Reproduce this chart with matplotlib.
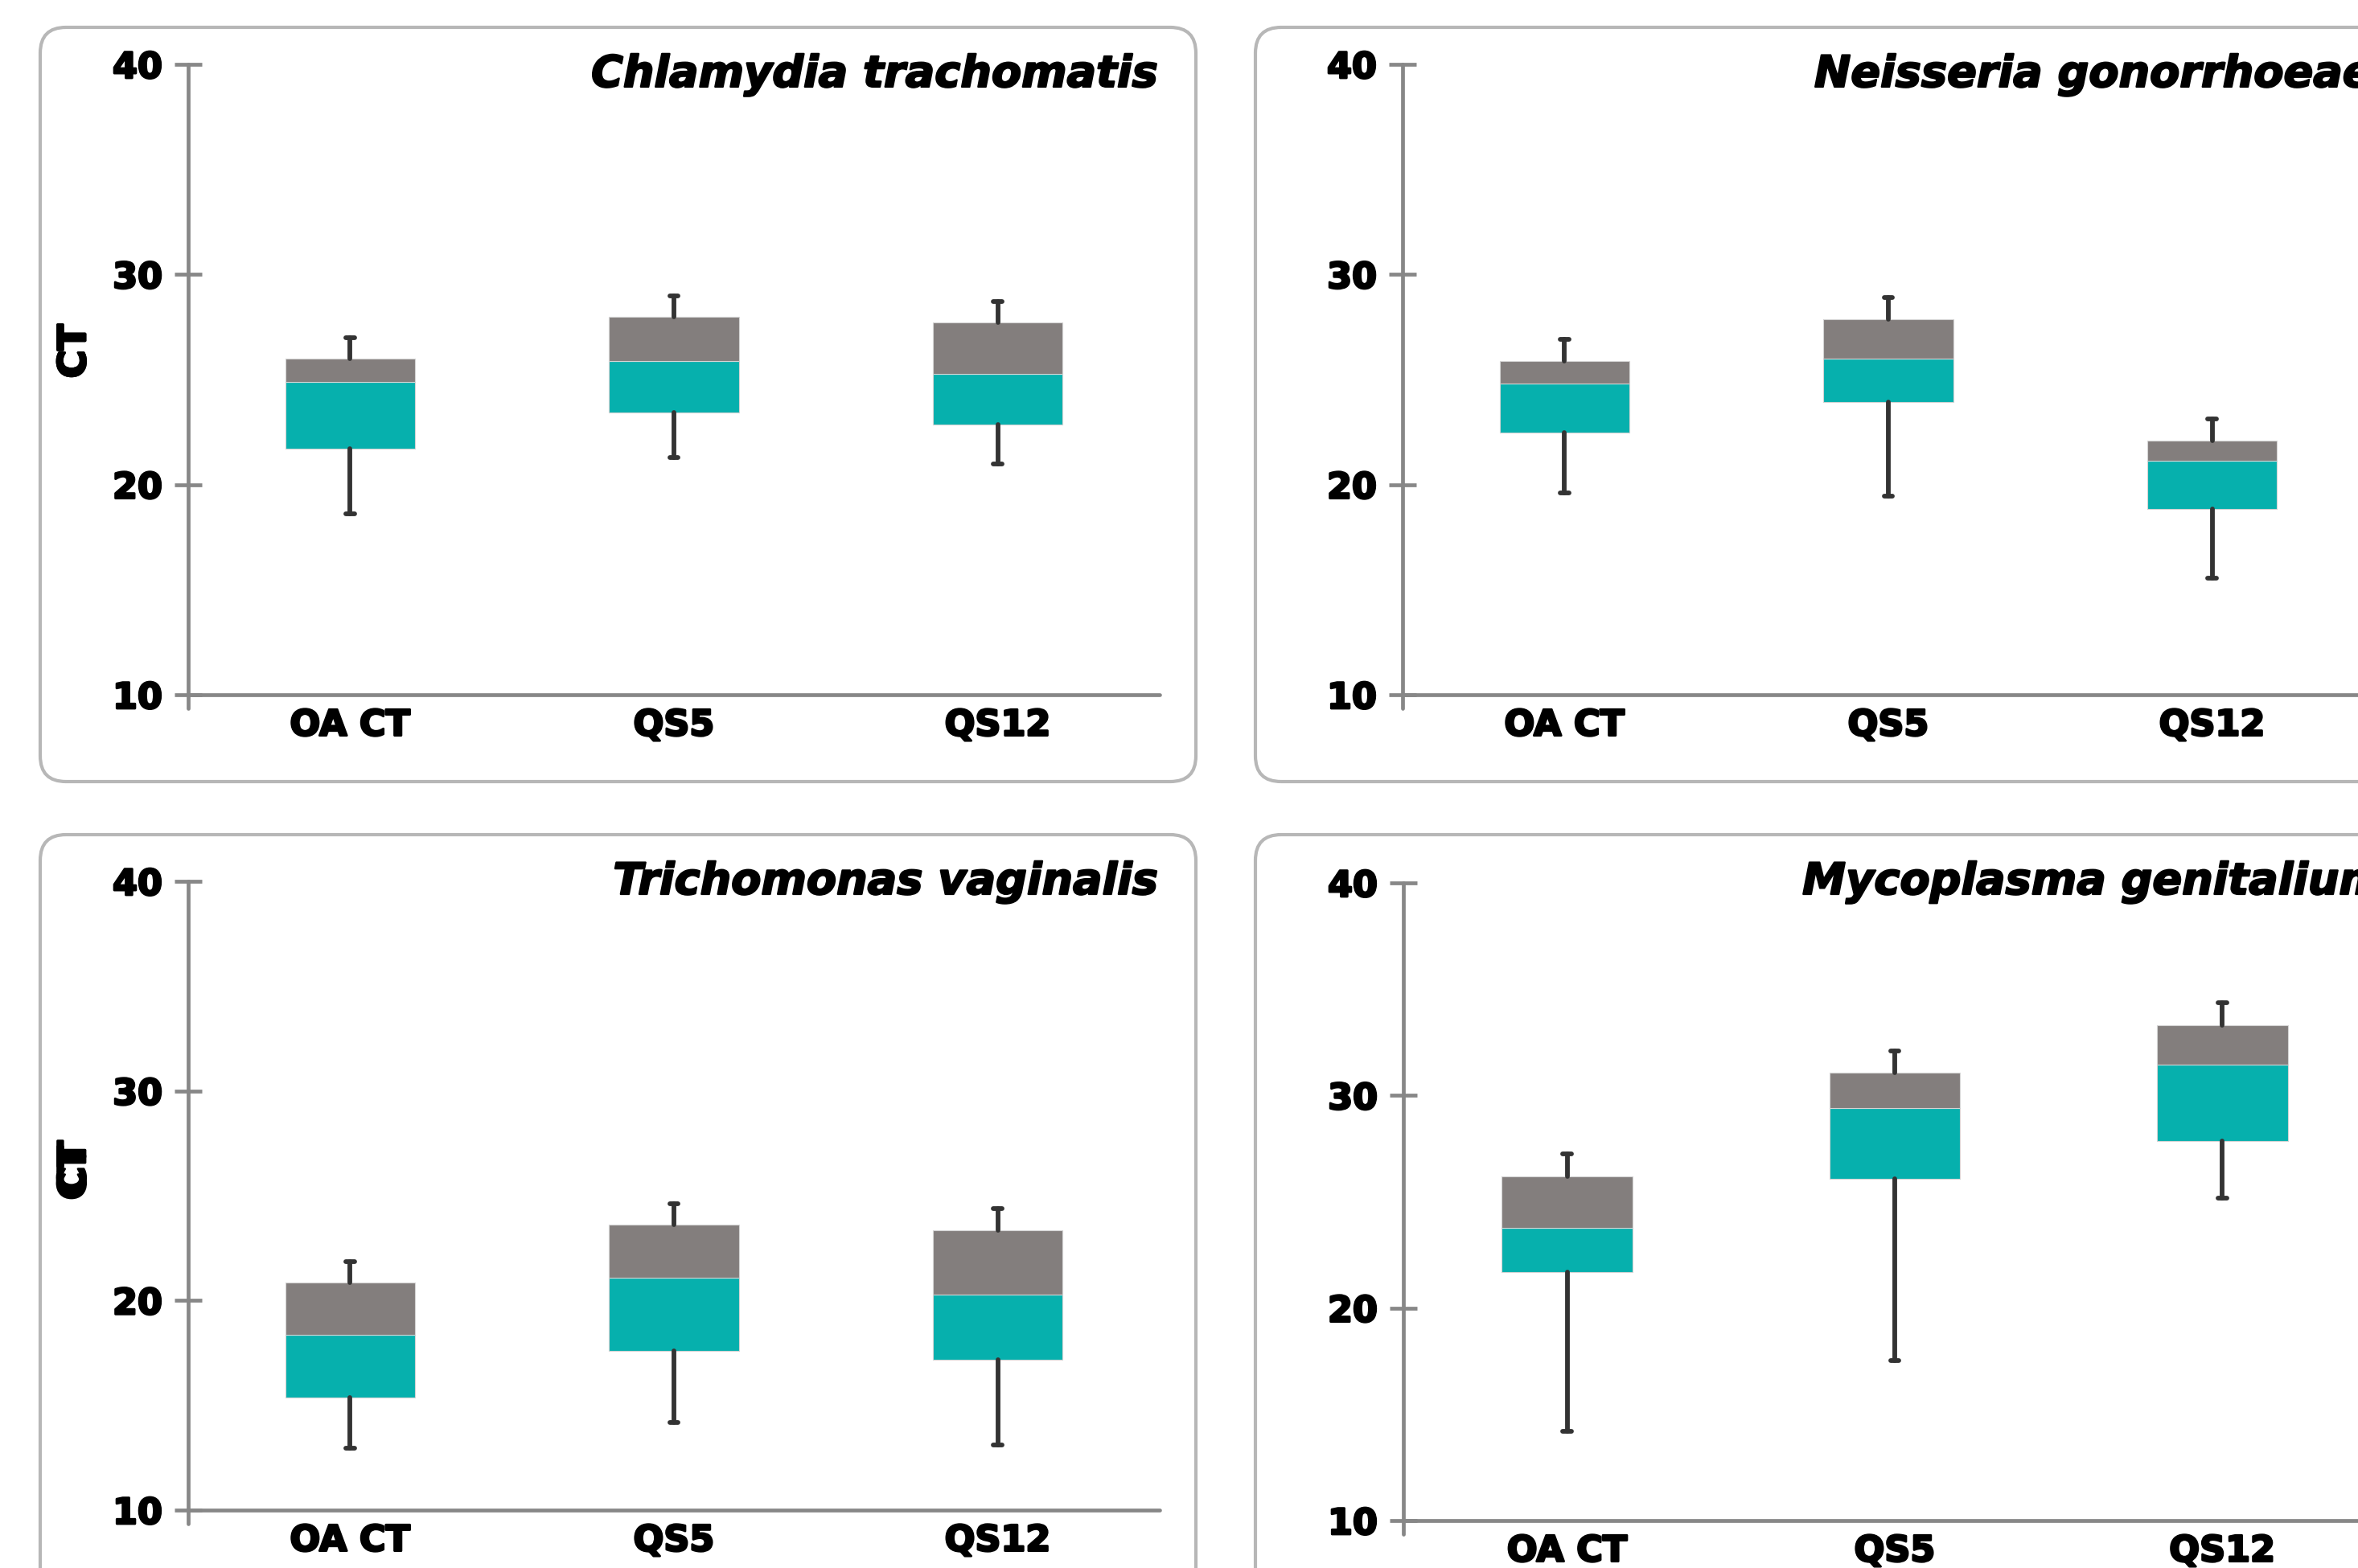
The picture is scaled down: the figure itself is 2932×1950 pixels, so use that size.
import matplotlib
matplotlib.use("Agg")
import matplotlib.pyplot as plt
import matplotlib.patheffects as pe
from matplotlib.patches import FancyBboxPatch
from matplotlib.transforms import IdentityTransform
import numpy as np

# figure size in pixels
W, H = 2932, 1950
DPI = 100

categories = ["OA CT", "QS5", "QS12"]
titles = ["Chlamydia trachomatis", "Neisseria gonorrhoeae",
          "Trichomonas vaginalis", "Mycoplasma genitalium"]

# box statistics (CT values) per target: min, Q1, median, Q3, max
ct_min = [18.6, 21.3, 21.0]
ct_q1 = [21.7, 23.45, 22.86]
ct_med = [24.87, 25.87, 25.26]
ct_q3 = [26.0, 27.97, 27.70]
ct_max = [27.0, 28.97, 28.70]

ng_min = [19.6, 19.46, 15.55]
ng_q1 = [22.47, 23.94, 18.83]
ng_med = [24.82, 25.99, 21.12]
ng_q3 = [25.89, 27.87, 22.10]
ng_max = [26.92, 28.90, 23.11]

tv_min = [12.95, 14.20, 13.11]
tv_q1 = [15.37, 17.60, 17.16]
tv_med = [18.36, 21.08, 20.27]
tv_q3 = [20.85, 23.62, 23.36]
tv_max = [21.87, 24.62, 24.38]

mg_min = [14.21, 17.52, 25.18]
mg_q1 = [21.68, 26.07, 27.86]
mg_med = [23.76, 29.41, 31.45]
mg_q3 = [26.21, 31.08, 33.32]
mg_max = [27.24, 32.09, 34.35]

yticks = [10, 20, 30, 40]

TEAL = "#06b0ad"
GREY = "#837e7d"
AXIS = "#878787"
WHISK = "#333333"
BORDER = "#b7b7b7"
FONT = "DejaVu Sans"

plt.rcParams["font.family"] = [FONT]

# thicker strokes so the bold text looks as heavy as in the original
heavy = [pe.withStroke(linewidth=2.0, foreground="black")]
heavy_title = [pe.withStroke(linewidth=1.6, foreground="black")]

fig = plt.figure(figsize=(W / DPI, H / DPI), dpi=DPI)
fig.patch.set_facecolor("white")

# (axes left, top, width, height) and (border x0, y0, x1, y1), all in pixels
panels = [
    (titles[0], (ct_min, ct_q1, ct_med, ct_q3, ct_max), (234, 80, 1208, 784), (50, 34, 1487, 972)),
    (titles[1], (ng_min, ng_q1, ng_med, ng_q3, ng_max), (1744, 80, 1208, 784), (1561, 34, 2998, 972)),
    (titles[2], (tv_min, tv_q1, tv_med, tv_q3, tv_max), (234, 1096, 1208, 782), (50, 1038, 1487, 1990)),
    (titles[3], (mg_min, mg_q1, mg_med, mg_q3, mg_max), (1745, 1098, 1222, 793), (1561, 1038, 2998, 1990)),
]

for title, stats, (l, t, w, h), (bx0, by0, bx1, by1) in panels:
    # rounded panel frame
    frame = FancyBboxPatch((bx0, H - by1), bx1 - bx0, by1 - by0,
                           boxstyle="round,pad=0,rounding_size=32",
                           transform=IdentityTransform(), facecolor="none",
                           edgecolor=BORDER, linewidth=3, zorder=0)
    fig.add_artist(frame)

    ax = fig.add_axes([l / W, 1 - (t + h) / H, w / W, h / H])
    ax.set_facecolor("none")
    vmin, q1, med, q3, vmax = [np.array(s) for s in stats]
    x = np.arange(len(categories))

    ax.bar(x, med - q1, bottom=q1, width=0.4, color=TEAL,
           edgecolor="#d4d4d4", linewidth=0.8, zorder=2)
    ax.bar(x, q3 - med, bottom=med, width=0.4, color=GREY,
           edgecolor="#d4d4d4", linewidth=0.8, zorder=2)

    ax.vlines(x, q3, vmax, color=WHISK, linewidth=4.2, capstyle="round", zorder=3)
    ax.vlines(x, vmin, q1, color=WHISK, linewidth=4.2, capstyle="round", zorder=3)
    ax.hlines(vmax, x - 0.013, x + 0.013, color=WHISK, linewidth=4.2, capstyle="round", zorder=3)
    ax.hlines(vmin, x - 0.013, x + 0.013, color=WHISK, linewidth=4.2, capstyle="round", zorder=3)

    ax.set_xlim(-0.5, len(categories) - 0.5)
    ax.set_ylim(10, 40)
    ax.set_yticks(yticks)
    ax.set_xticks(x)
    ax.set_xticklabels(categories)

    for side in ("top", "right"):
        ax.spines[side].set_visible(False)
    for side in ("left", "bottom"):
        ax.spines[side].set_color(AXIS)
        ax.spines[side].set_linewidth(3.4)
        ax.spines[side].set_capstyle("round")
    ax.spines["left"].set_bounds(9.35, 40)

    ax.tick_params(axis="y", direction="inout", length=24, width=3.4,
                   color=AXIS, pad=11, labelsize=32)
    ax.tick_params(axis="x", length=0, pad=12, labelsize=32)
    for lab in ax.get_xticklabels() + ax.get_yticklabels():
        lab.set_fontweight("bold")
        lab.set_color("black")
        lab.set_path_effects(heavy)

    ax.set_ylabel("CT", fontsize=34, fontweight="bold", color="black",
                  path_effects=heavy)
    ax.yaxis.set_label_coords(-(l - 116) / w, 0.545)

    fig.text(l + w - 3, H - (by0 + 74), title, transform=IdentityTransform(),
             ha="right", va="baseline", fontsize=39, fontweight="bold",
             fontstyle="italic", color="black", path_effects=heavy_title)

fig.savefig("out.png", dpi=DPI, facecolor="white")
